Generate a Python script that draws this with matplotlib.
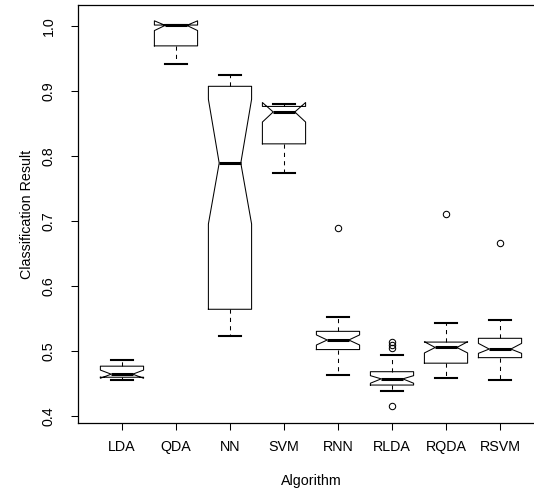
import matplotlib
matplotlib.use("Agg")
import matplotlib.pyplot as plt

plt.rcParams["font.family"] = ["Liberation Sans", "DejaVu Sans"]

algorithms = ["LDA", "QDA", "NN", "SVM", "RNN", "RLDA", "RQDA", "RSVM"]

# five-number summaries + notch limits
whislo = [0.4553, 0.9410, 0.5233, 0.7742, 0.4640, 0.4385, 0.4594, 0.4558]
q1 = [0.4600, 0.9690, 0.5644, 0.8185, 0.5025, 0.4480, 0.4816, 0.4901]
cilo = [0.4584, 0.9925, 0.6954, 0.8520, 0.5095, 0.4508, 0.4973, 0.4967]
med = [0.4647, 1.0005, 0.7890, 0.8675, 0.5172, 0.4575, 0.5057, 0.5033]
cihi = [0.4710, 1.0075, 0.8870, 0.8820, 0.5250, 0.4624, 0.5145, 0.5120]
q3 = [0.4770, 1.0010, 0.9069, 0.8760, 0.5305, 0.4685, 0.5140, 0.5198]
whishi = [0.4858, 1.0010, 0.9238, 0.8795, 0.5520, 0.4947, 0.5427, 0.5481]
fliers = [[], [], [], [], [0.6888], [0.4155, 0.5054, 0.5100, 0.5146], [0.7105], [0.6667]]

yticks = [0.4, 0.5, 0.6, 0.7, 0.8, 0.9, 1.0]

stats = []
for i, name in enumerate(algorithms):
    stats.append({
        "label": name, "whislo": whislo[i], "q1": q1[i], "cilo": cilo[i], "med": med[i],
        "cihi": cihi[i], "q3": q3[i], "whishi": whishi[i], "fliers": fliers[i],
    })

fig = plt.figure(figsize=(5.34, 4.91), dpi=100)
W, H = 534, 491
# plot region in pixels (R-style, right edge runs off the image)
left, right, top, bottom = 77.7, 544.3, 5, 423
ax = fig.add_axes([left / W, 1 - bottom / H, (right - left) / W, (bottom - top) / H])

ax.bxp(
    stats,
    positions=range(1, len(algorithms) + 1),
    widths=0.8,
    shownotches=True,
    boxprops=dict(color="black", linewidth=0.75),
    whiskerprops=dict(color="black", linewidth=0.75, linestyle=(0, (4, 4))),
    capprops=dict(color="black", linewidth=1.5),
    medianprops=dict(color="black", linewidth=2.2),
    flierprops=dict(marker="o", markerfacecolor="none", markeredgecolor="black",
                    markersize=4.6, markeredgewidth=0.75, linestyle="none"),
)

ax.set_xlim(0.18, 8.82)
ax.set_ylim(0.3897, 1.0318)
ax.set_xticks(range(1, len(algorithms) + 1))
ax.set_xticklabels(algorithms)
ax.set_yticks(yticks)
ax.set_yticklabels([f"{v:.1f}" for v in yticks], rotation=90, va="center")

ax.tick_params(axis="both", direction="out", length=5, width=0.75, labelsize=10.3)
ax.tick_params(axis="x", pad=7)
ax.tick_params(axis="y", pad=11)
for s in ax.spines.values():
    s.set_linewidth(0.9)

fig.text(311 / W, 1 - 481 / H, "Algorithm", ha="center", va="center", fontsize=10.3)
fig.text(27 / W, 1 - 214 / H, "Classification Result", ha="center", va="center",
         rotation=90, fontsize=10.3)

fig.savefig("out.png", dpi=100)
